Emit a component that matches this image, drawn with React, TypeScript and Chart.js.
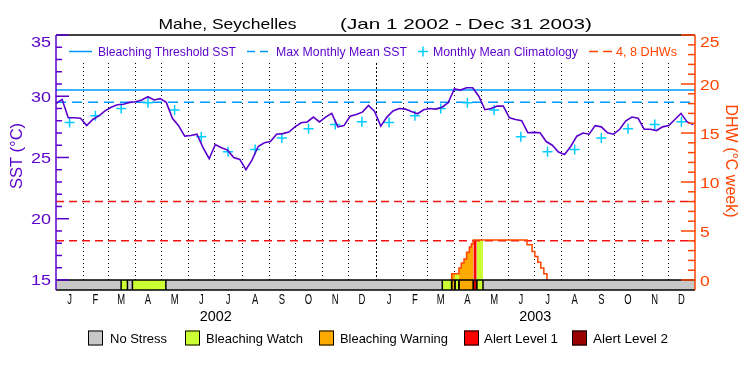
import React, { useEffect, useRef } from 'react';
import { Chart, registerables } from 'chart.js';

Chart.register(...registerables);

// ---------------- data ----------------
const titleSite = 'Mahe, Seychelles';
const titlePeriod = '(Jan 1 2002 - Dec 31 2003)';
const years = ['2002', '2003'];
const monthLetters = ['J', 'F', 'M', 'A', 'M', 'J', 'J', 'A', 'S', 'O', 'N', 'D'];
const monthLengths = [31, 28, 31, 30, 31, 30, 31, 31, 30, 31, 30, 31];
const totalDays = 730;

const sstTicks = [15, 20, 25, 30, 35];
const dhwTicks = [0, 5, 10, 15, 20, 25];

// weekly SST (deg C), starting Jan 1 2002
const sstWeekly = [
  29.4, 29.74, 28.24, 28.24, 28.2, 27.6, 28.1, 28.4, 28.8, 29.1,
  29.3, 29.35, 29.5, 29.55, 29.7, 29.96, 29.7, 29.8, 29.5, 28.2,
  27.6, 26.74, 26.8, 26.9, 25.8, 24.9, 26.06, 25.8, 25.6, 25.0,
  24.84, 24.0, 24.8, 25.9, 26.2, 26.3, 26.9, 26.95, 27.07, 27.5,
  27.83, 27.9, 28.3, 27.9, 28.3, 28.6, 27.5, 27.6, 28.37, 28.5,
  28.7, 29.25, 28.75, 27.56, 28.3, 28.8, 29.0, 28.95, 28.75, 28.57,
  28.9, 29.0, 28.95, 29.1, 29.47, 30.6, 30.5, 30.69, 30.69, 30.0,
  28.9, 29.0, 29.2, 29.19, 28.24, 28.1, 28.0, 27.02, 27.05, 27.02,
  26.3, 26.0, 25.44, 25.25, 25.9, 26.74, 27.0, 26.9, 27.6, 27.5,
  27.02, 26.9, 27.3, 28.0, 28.3, 28.2, 27.3, 27.3, 27.2, 27.5,
  27.6, 28.1, 28.6, 27.9, 27.7,
];
const sstStepDays = 7;

// monthly mean climatology (Jan..Dec)
const climatology = [27.85, 28.41, 29.0, 29.47, 28.87, 26.69, 25.47, 25.65, 26.6, 27.34, 27.69, 27.91];
const maxMonthlyMean = 29.5;
const bleachingThreshold = 30.5;
const dhwGuides = [4, 8];

// Degree Heating Weeks (day index since Jan 1 2002)
const dhwDays = [451, 452, 460.3, 463, 466.1, 469.1, 472.2, 474.5, 476.8, 538.1, 543.9, 547, 550.4, 553.8, 557.3, 560.9];
const dhwValues = [0, 0.64, 1.22, 1.73, 2.14, 2.82, 3.36, 3.7, 4.07, 3.6, 2.9, 2.4, 1.8, 1.22, 0.64, 0];

// bleaching alert status periods
const statusStart = [74.4, 87.3, 441.3, 452, 455.8, 460.3, 476.8, 480.6];
const statusEnd = [81.6, 125.5, 452, 455.8, 460.3, 476.8, 480.6, 487.8];
const statusLevel = [1, 1, 1, 2, 1, 2, 3, 1];
const statusNames = ['No Stress', 'Bleaching Watch', 'Bleaching Warning', 'Alert Level 1', 'Alert Level 2'];
const statusColors = ['#c8c8c8', '#ccff33', '#ffaa00', '#ff0000', '#990000'];

// ---------------- styles ----------------
const FONT = '"Liberation Sans", Arial, sans-serif';
const purple = '#5a00cc';
const orangeRed = '#ff4500';
const guideRed = '#f01414';
const thresholdBlue = '#0099ff';
const climCyan = '#00ccff';

function txt(
  ctx: CanvasRenderingContext2D,
  s: string,
  x: number,
  y: number,
  o: { size: number; color: string; align?: CanvasTextAlign; width?: number; sx?: number; rot?: number; base?: CanvasTextBaseline }
) {
  ctx.save();
  ctx.font = `${o.size}px ${FONT}`;
  ctx.fillStyle = o.color;
  ctx.textAlign = o.align || 'left';
  ctx.textBaseline = o.base || 'alphabetic';
  const w = ctx.measureText(s).width;
  let sx = o.sx || 1;
  if (o.width) sx = o.width / w;
  ctx.translate(x, y);
  if (o.rot) ctx.rotate(o.rot);
  ctx.scale(sx, 1);
  ctx.fillText(s, 0, 0);
  ctx.restore();
}

function line(ctx: CanvasRenderingContext2D, x1: number, y1: number, x2: number, y2: number, color: string, w: number, dash: number[] = []) {
  ctx.save();
  ctx.strokeStyle = color;
  ctx.lineWidth = w;
  ctx.setLineDash(dash);
  ctx.beginPath();
  ctx.moveTo(x1, y1);
  ctx.lineTo(x2, y2);
  ctx.stroke();
  ctx.restore();
}

function monthStarts(): number[] {
  const out: number[] = [];
  let d = 0;
  for (let y = 0; y < years.length; y++) {
    for (let m = 0; m < 12; m++) {
      out.push(d);
      d += monthLengths[m];
    }
  }
  out.push(d);
  return out;
}

function dhwAt(day: number): number {
  let v = 0;
  for (let i = 0; i < dhwDays.length; i++) if (dhwDays[i] <= day) v = dhwValues[i];
  return v;
}

export default function App() {
  const ref = useRef<HTMLCanvasElement>(null);

  useEffect(() => {
    const canvas = ref.current;
    if (!canvas) return;
    const starts = monthStarts();

    const sstData = sstWeekly.map((v, i) => ({ x: i * sstStepDays, y: v }));
    const climData: { x: number; y: number }[] = [];
    for (let y = 0; y < years.length; y++) {
      for (let m = 0; m < 12; m++) {
        const s = starts[y * 12 + m];
        climData.push({ x: s + monthLengths[m] / 2, y: climatology[m] });
      }
    }
    const dhwData = dhwDays.map((d, i) => ({ x: d, y: dhwValues[i] }));

    const fillSets: any[] = [];
    statusStart.forEach((s, k) => {
      const e = statusEnd[k];
      const pts = [{ x: s, y: dhwAt(s) }];
      dhwDays.forEach((d) => {
        if (d > s && d < e) pts.push({ x: d, y: dhwAt(d) });
      });
      pts.push({ x: e, y: dhwAt(e - 0.001) });
      fillSets.push({
        data: pts,
        yAxisID: 'yDHW',
        stepped: 'before',
        borderWidth: 0,
        borderColor: 'rgba(0,0,0,0)',
        backgroundColor: statusColors[statusLevel[k]],
        fill: { value: 0 },
        pointRadius: 0,
        order: 20,
      });
    });

    const overlay = {
      id: 'overlay',
      beforeDatasetsDraw(chart: any) {
        const ctx = chart.ctx as CanvasRenderingContext2D;
        const x = chart.scales.x;
        const yD = chart.scales.yDHW;
        const top = chart.chartArea.top + 28;
        const bot = yD.getPixelForValue(0);
        for (let i = 1; i < starts.length - 1; i++) {
          const px = Math.round(x.getPixelForValue(starts[i])) + 0.5;
          const isYear = i % 12 === 0;
          line(ctx, px, top, px, bot, '#000', 1, isYear ? [2, 2] : [1, 3]);
        }
      },
      afterDraw(chart: any) {
        const ctx = chart.ctx as CanvasRenderingContext2D;
        const a = chart.chartArea;
        const x = chart.scales.x;
        const yS = chart.scales.ySST;
        const yD = chart.scales.yDHW;

        // status bar
        const y0 = yD.getPixelForValue(0);
        const y1 = a.bottom;
        ctx.fillStyle = statusColors[0];
        ctx.fillRect(a.left, y0, a.right - a.left, y1 - y0);
        statusStart.forEach((s, k) => {
          const xs = x.getPixelForValue(s);
          const xe = x.getPixelForValue(statusEnd[k]);
          ctx.fillStyle = statusColors[statusLevel[k]];
          ctx.fillRect(xs, y0, xe - xs, y1 - y0);
        });
        statusStart.forEach((s, k) => {
          const xs = x.getPixelForValue(s);
          const xe = x.getPixelForValue(statusEnd[k]);
          line(ctx, xs, y0, xs, y1, '#000', 1.5);
          line(ctx, xe, y0, xe, y1, '#000', 1.5);
        });
        line(ctx, a.left, y0, a.right, y0, '#000', 1.5);
        line(ctx, a.left, y1, a.right, y1, '#000', 1.5);

        // frame top
        line(ctx, a.left, a.top, a.right, a.top, '#000', 1.5);

        // left axis (SST)
        line(ctx, a.left, a.top, a.left, a.bottom, purple, 1.5);
        for (let v = sstTicks[0]; v <= sstTicks[sstTicks.length - 1]; v++) {
          const py = yS.getPixelForValue(v);
          const major = sstTicks.includes(v);
          line(ctx, a.left, py, a.left + (major ? 13 : 6), py, purple, 1.5);
        }
        sstTicks.forEach((v) => {
          const py = Math.max(yS.getPixelForValue(v), a.top + 6);
          txt(ctx, String(v), a.left - 5, py + 5.5, { size: 15, color: purple, align: 'right', width: 20 });
        });

        // right axis (DHW)
        line(ctx, a.right, a.top, a.right, a.bottom, orangeRed, 1.5);
        for (let v = dhwTicks[0]; v <= dhwTicks[dhwTicks.length - 1]; v++) {
          const py = yD.getPixelForValue(v);
          const major = dhwTicks.includes(v);
          line(ctx, a.right, py, a.right - (major ? 14 : 7), py, orangeRed, 1.5);
        }
        dhwTicks.forEach((v) => {
          const py = Math.max(yD.getPixelForValue(v), a.top + 6);
          const s = String(v);
          txt(ctx, s, a.right + 5, py + 5.5, { size: 15, color: orangeRed, align: 'left', width: s.length * 9.7 });
        });

        // axis titles
        txt(ctx, 'SST (°C)', 17, 156, { size: 17, color: purple, align: 'center', base: 'middle', width: 66, rot: -Math.PI / 2 });
        txt(ctx, 'DHW (°C week)', 731, 161, { size: 17, color: orangeRed, align: 'center', base: 'middle', width: 113, rot: Math.PI / 2 });

        // title
        txt(ctx, titleSite, 158.5, 29, { size: 15, color: '#000', width: 138 });
        txt(ctx, titlePeriod, 340, 29, { size: 15, color: '#000', width: 252 });

        // month letters + years
        for (let yi = 0; yi < years.length; yi++) {
          for (let m = 0; m < 12; m++) {
            const s = starts[yi * 12 + m];
            const px = x.getPixelForValue(s + monthLengths[m] / 2);
            txt(ctx, monthLetters[m], px, 304, { size: 15, color: '#000', align: 'center', sx: 0.63 });
          }
          const mid = starts[yi * 12] + 182.5;
          txt(ctx, years[yi], x.getPixelForValue(mid), 320.5, { size: 15, color: '#000', align: 'center', width: 32 });
        }

        // inner legend
        const ly = 51.5;
        const lb = 55.5;
        line(ctx, 69, ly, 92, ly, thresholdBlue, 1.5);
        txt(ctx, 'Bleaching Threshold SST', 98, lb, { size: 12.5, color: purple, width: 138 });
        line(ctx, 247, ly, 268, ly, thresholdBlue, 1.5, [8, 5]);
        txt(ctx, 'Max Monthly Mean SST', 276, lb, { size: 12.5, color: purple, width: 131 });
        line(ctx, 418, ly, 428, ly, climCyan, 1.5);
        line(ctx, 423, ly - 5, 423, ly + 5, climCyan, 1.5);
        txt(ctx, 'Monthly Mean Climatology', 433, lb, { size: 12.5, color: purple, width: 145 });
        line(ctx, 589, ly, 612, ly, orangeRed, 1.5, [9, 5]);
        txt(ctx, '4, 8 DHWs', 616, lb, { size: 12.5, color: orangeRed, width: 61 });

        // bottom legend
        const LY = 338;
        const boxX = [88, 185, 319, 464, 572];
        const textX = [110, 206, 340, 484, 593];
        const textW = [57, 97, 108, 74, 75];
        statusNames.forEach((n, i) => {
          ctx.fillStyle = statusColors[i];
          ctx.fillRect(boxX[i], LY - 7.5, 15, 15);
          ctx.strokeStyle = '#000';
          ctx.lineWidth = 1;
          ctx.setLineDash([]);
          ctx.strokeRect(boxX[i] + 0.5, LY - 7, 14, 14);
          txt(ctx, n, textX[i], LY + 5, { size: 13, color: '#000', width: textW[i] });
        });
      },
    };

    const chart = new Chart(canvas, {
      type: 'line',
      data: {
        datasets: [
          { data: sstData, yAxisID: 'ySST', borderColor: purple, borderWidth: 1.6, pointRadius: 0, order: 1 },
          {
            data: climData, yAxisID: 'ySST', showLine: false, pointStyle: 'cross', pointRadius: 5,
            pointBorderColor: climCyan, pointBorderWidth: 1.5, borderColor: climCyan, order: 2,
          },
          { data: [{ x: 0, y: bleachingThreshold }, { x: totalDays, y: bleachingThreshold }], yAxisID: 'ySST', borderColor: thresholdBlue, borderWidth: 1.5, pointRadius: 0, order: 3 },
          { data: [{ x: 0, y: maxMonthlyMean }, { x: totalDays, y: maxMonthlyMean }], yAxisID: 'ySST', borderColor: thresholdBlue, borderWidth: 1.5, borderDash: [10, 6], pointRadius: 0, order: 4 },
          { data: dhwData, yAxisID: 'yDHW', stepped: 'before', borderColor: orangeRed, borderWidth: 1.5, pointRadius: 0, order: 5 },
          ...dhwGuides.map((g) => ({
            data: [{ x: 0, y: g }, { x: totalDays, y: g }], yAxisID: 'yDHW', borderColor: guideRed, borderWidth: 1.5,
            borderDash: [8, 5], pointRadius: 0, order: 6,
          })),
          ...fillSets,
        ] as any,
      },
      options: {
        responsive: false,
        animation: false,
        devicePixelRatio: 1,
        layout: { padding: { left: 56, right: 55, top: 35, bottom: 85 } },
        plugins: { legend: { display: false }, tooltip: { enabled: false }, title: { display: false } },
        elements: { line: { tension: 0 }, point: { radius: 0 } },
        scales: {
          x: { type: 'linear', min: 0, max: totalDays, display: false },
          ySST: { type: 'linear', position: 'left', min: 14.18, max: 35, display: false },
          yDHW: { type: 'linear', position: 'right', min: -1.02, max: 25, display: false },
        },
      } as any,
      plugins: [overlay],
    });
    return () => chart.destroy();
  }, []);

  return (
    <div style={{ position: 'fixed', left: 0, top: 0, width: 750, height: 375, background: '#fff' }}>
      <canvas ref={ref} width={750} height={375} style={{ display: 'block', width: 750, height: 375 }} />
    </div>
  );
}
